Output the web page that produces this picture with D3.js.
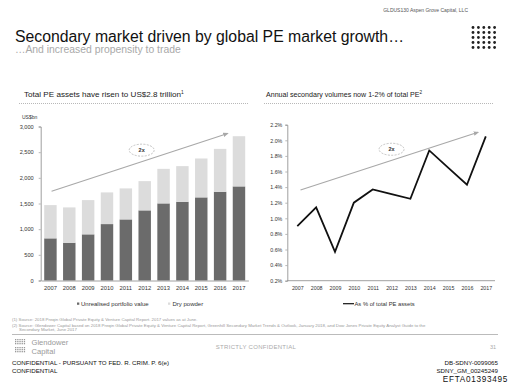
<!DOCTYPE html>
<html><head><meta charset="utf-8">
<script src="https://cdn.jsdelivr.net/npm/d3@7"></script>
<style>html,body{margin:0;padding:0;background:#fff;}svg{display:block;font-family:"Liberation Sans",Arial,sans-serif;}</style>
</head><body>
<svg id="c" width="512" height="388"></svg>
<script>
const years = ["2007","2008","2009","2010","2011","2012","2013","2014","2015","2016","2017"];
const unrealised = [821, 735, 899, 1099, 1190, 1366, 1502, 1533, 1619, 1728, 1833];
const totalAssets = [1469, 1424, 1566, 1716, 1794, 1936, 2175, 2228, 2377, 2564, 2811];
const dryPowder = totalAssets.map((t,i)=>t-unrealised[i]);
const leftTicks = [0,500,1000,1500,2000,2500,3000];
const secondaryPct = [0.90, 1.14, 0.57, 1.20, 1.37, 1.31, 1.25, 1.87, 1.65, 1.43, 2.05];
const rightTicks = [0.2,0.4,0.6,0.8,1.0,1.2,1.4,1.6,1.8,2.0,2.2];
const seriesNames = ["Unrealised portfolio value","Dry powder"];
const lineName = "As % of total PE assets";

const svg = d3.select("#c");
const DARK = "#6b6b6b", LIGHT = "#dcdcdc", ARROW = "#a8a8a8";

// header
svg.append("text").attr("x",468).attr("y",12).attr("text-anchor","end").attr("font-size",5).attr("fill","#555").text("GLDUS130 Aspen Grove Capital, LLC");
svg.append("text").attr("x",15).attr("y",42).attr("font-size",15.8).attr("fill","#111").text("Secondary market driven by global PE market growth…");
svg.append("text").attr("x",15).attr("y",52.5).attr("font-size",10.4).attr("fill","#a9a9a9").text("…And increased propensity to trade");
// logo dots
const dg = svg.append("g").attr("fill","#222");
d3.range(5).forEach(r=>d3.range(5).forEach(c=>dg.append("circle").attr("cx",473+c*5.4).attr("cy",27.5+r*5).attr("r",1.4)));

// ---- Left chart
svg.append("text").attr("x",24).attr("y",97).attr("font-size",8.1).attr("fill","#222").text("Total PE assets have risen to US$2.8 trillion").append("tspan").attr("font-size",4.8).attr("dy",-3).text("1");
svg.append("line").attr("x1",19).attr("x2",249).attr("y1",103.5).attr("y2",103.5).attr("stroke","#999").attr("stroke-width",0.7).attr("stroke-dasharray","1,1");
svg.append("text").attr("x",22).attr("y",119).attr("font-size",5).attr("fill","#333").text("US$bn");

const xL = d3.scaleBand().domain(years).range([41,248.4]).paddingInner(0.34).paddingOuter(0.17);
const yL = d3.scaleLinear().domain([0,3000]).range([280.5,126.5]);
const gL = svg.append("g");
gL.selectAll("rect.u").data(years).join("rect").attr("x",d=>xL(d)).attr("width",xL.bandwidth())
  .attr("y",(d,i)=>yL(unrealised[i])).attr("height",(d,i)=>yL(0)-yL(unrealised[i])).attr("fill",DARK);
gL.selectAll("rect.d").data(years).join("rect").attr("x",d=>xL(d)).attr("width",xL.bandwidth())
  .attr("y",(d,i)=>yL(unrealised[i]+dryPowder[i])).attr("height",(d,i)=>yL(unrealised[i])-yL(unrealised[i]+dryPowder[i])).attr("fill",LIGHT);
const axYL = svg.append("g").attr("transform","translate(40.7,0)").call(d3.axisLeft(yL).tickValues(leftTicks).tickFormat(d3.format(",")).tickSize(2).tickPadding(5));
const axXL = svg.append("g").attr("transform","translate(0,280.5)").call(d3.axisBottom(xL).tickSize(0).tickPadding(5));
[axYL,axXL].forEach(a=>{a.selectAll("path").attr("stroke","#888").attr("stroke-width",0.8);a.selectAll("line").attr("stroke","#888").attr("stroke-width",0.6);a.selectAll("text").attr("font-size",5.6).attr("fill","#333").attr("font-family","Liberation Sans, Arial, sans-serif");});
axXL.selectAll("text").attr("font-size",5.8);

// annotation arrow left (data units: index, value)
const iL = d3.scaleLinear().domain([0,10]).range([xL(years[0])+xL.bandwidth()/2, xL(years[10])+xL.bandwidth()/2]);
const defs = svg.append("defs");
defs.append("marker").attr("id","ah").attr("viewBox","0 0 10 10").attr("refX",8).attr("refY",5).attr("markerWidth",5).attr("markerHeight",5).attr("orient","auto")
  .append("path").attr("d","M0,1 L10,5 L0,9 z").attr("fill",ARROW);
const arrowL = {x0:0.06, v0:1740, x1:9.4, v1:2865, ex:4.84, ev:2539};
svg.append("line").attr("x1",iL(arrowL.x0)).attr("y1",yL(arrowL.v0)).attr("x2",iL(arrowL.x1)).attr("y2",yL(arrowL.v1)).attr("stroke",ARROW).attr("stroke-width",1.1).attr("marker-end","url(#ah)");
svg.append("ellipse").attr("cx",iL(arrowL.ex)).attr("cy",yL(arrowL.ev)).attr("rx",12.5).attr("ry",6).attr("fill","#fff").attr("stroke","#aaa").attr("stroke-width",0.7).attr("stroke-dasharray","2,1.3");
svg.append("text").attr("x",iL(arrowL.ex)).attr("y",yL(arrowL.ev)+2).attr("text-anchor","middle").attr("font-size",5.5).attr("font-weight","bold").attr("fill","#333").text("2x");

// legend left
const lg = svg.append("g").attr("font-size",6).attr("fill","#333");
lg.append("rect").attr("x",77).attr("y",302.5).attr("width",2.3).attr("height",2.3).attr("fill",DARK);
lg.append("text").attr("x",81).attr("y",305.5).text(seriesNames[0]);
lg.append("rect").attr("x",168).attr("y",302.5).attr("width",2.3).attr("height",2.3).attr("fill",LIGHT);
lg.append("text").attr("x",172.5).attr("y",305.5).text(seriesNames[1]);

// ---- Right chart
svg.append("text").attr("x",266).attr("y",97).attr("font-size",7.1).attr("fill","#222").text("Annual secondary volumes now 1-2% of total PE").append("tspan").attr("font-size",4.6).attr("dy",-3).text("2");
svg.append("line").attr("x1",264).attr("x2",494).attr("y1",103.5).attr("y2",103.5).attr("stroke","#999").attr("stroke-width",0.7).attr("stroke-dasharray","1,1");

const xR = d3.scalePoint().domain(years).range([297.3,485.8]);
const yR = d3.scaleLinear().domain([0.2,2.2]).range([280.7,124.7]);
const axYR = svg.append("g").attr("transform","translate(287.3,0)").call(d3.axisLeft(yR).tickValues(rightTicks).tickFormat(d=>d.toFixed(1)+"%").tickSize(2).tickPadding(3));
const axXR = svg.append("g").attr("transform","translate(0,280.7)").call(d3.axisBottom(xR).tickSize(0).tickPadding(6));
axXR.select("path").attr("d","M287.3,0H495");
[axYR,axXR].forEach(a=>{a.selectAll("path").attr("stroke","#888").attr("stroke-width",0.8);a.selectAll("line").attr("stroke","#888").attr("stroke-width",0.6);a.selectAll("text").attr("font-size",5.3).attr("fill","#333").attr("font-family","Liberation Sans, Arial, sans-serif");});

const iR = d3.scaleLinear().domain([0,10]).range([xR(years[0]), xR(years[10])]);
const arrowR = {x0:0.17, v0:1.363, x1:9.59, v1:2.103, ex:5.0, ev:1.885};
svg.append("line").attr("x1",iR(arrowR.x0)).attr("y1",yR(arrowR.v0)).attr("x2",iR(arrowR.x1)).attr("y2",yR(arrowR.v1)).attr("stroke",ARROW).attr("stroke-width",1.1).attr("marker-end","url(#ah)");
svg.append("path").datum(secondaryPct).attr("d",d3.line().x((d,i)=>xR(years[i])).y(d=>yR(d))).attr("fill","none").attr("stroke","#111").attr("stroke-width",1.8).attr("stroke-linejoin","miter");
svg.append("ellipse").attr("cx",iR(arrowR.ex)).attr("cy",yR(arrowR.ev)).attr("rx",12.5).attr("ry",6).attr("fill","#fff").attr("stroke","#aaa").attr("stroke-width",0.7).attr("stroke-dasharray","2,1.3");
svg.append("text").attr("x",iR(arrowR.ex)).attr("y",yR(arrowR.ev)+2).attr("text-anchor","middle").attr("font-size",5.5).attr("font-weight","bold").attr("fill","#333").text("2x");

svg.append("line").attr("x1",343).attr("x2",354).attr("y1",303.7).attr("y2",303.7).attr("stroke","#111").attr("stroke-width",1.2);
svg.append("text").attr("x",354.5).attr("y",305.5).attr("font-size",5.8).attr("fill","#333").text(lineName);

// footnotes
const fn = svg.append("g").attr("font-size",4.35).attr("fill","#999");
fn.append("text").attr("x",12).attr("y",321).text("(1)  Source: 2018 Preqin Global Private Equity & Venture Capital Report. 2017 values as at June.");
fn.append("text").attr("x",12).attr("y",326.5).text("(2)  Source: Glendower Capital based on 2018 Preqin Global Private Equity & Venture Capital Report, Greenhill Secondary Market Trends & Outlook, January 2018, and Dow Jones Private Equity Analyst Guide to the");
fn.append("text").attr("x",19).attr("y",330.5).text("Secondary Market, June 2017");
svg.append("line").attr("x1",12).attr("x2",498).attr("y1",334.5).attr("y2",334.5).attr("stroke","#aaa").attr("stroke-width",0.8);

// footer logo
const fl = svg.append("g").attr("fill","#999");
d3.range(3).forEach(r=>d3.range(5).forEach(c=>fl.append("rect").attr("x",15+c*2.2).attr("y",339+r*2).attr("width",1.3).attr("height",1.3)));
d3.range(3).forEach(r=>d3.range(5).forEach(c=>fl.append("rect").attr("x",15+c*2.2).attr("y",347+r*2).attr("width",1.3).attr("height",1.3)));
svg.append("text").attr("x",31.5).attr("y",345).attr("font-size",7.6).attr("fill","#999").text("Glendower");
svg.append("text").attr("x",31.5).attr("y",354).attr("font-size",7.6).attr("fill","#999").text("Capital");
svg.append("text").attr("x",256).attr("y",349).attr("text-anchor","middle").attr("font-size",6).attr("fill","#aaa").attr("letter-spacing",0.3).text("STRICTLY CONFIDENTIAL");
svg.append("text").attr("x",496).attr("y",349).attr("text-anchor","end").attr("font-size",5.5).attr("fill","#aaa").text("31");

const ft = svg.append("g").attr("font-size",6.2).attr("fill","#111");
ft.append("text").attr("x",12).attr("y",365).text("CONFIDENTIAL - PURSUANT TO FED. R. CRIM. P. 6(e)");
ft.append("text").attr("x",12).attr("y",373).text("CONFIDENTIAL");
ft.append("text").attr("x",498).attr("y",365).attr("text-anchor","end").text("DB-SDNY-0099065");
ft.append("text").attr("x",498).attr("y",373).attr("text-anchor","end").text("SDNY_GM_00245249");
svg.append("text").attr("x",508).attr("y",382).attr("text-anchor","end").attr("font-size",8.2).attr("letter-spacing",0.7).attr("fill","#111").text("EFTA01393495");
</script>
</body></html>
